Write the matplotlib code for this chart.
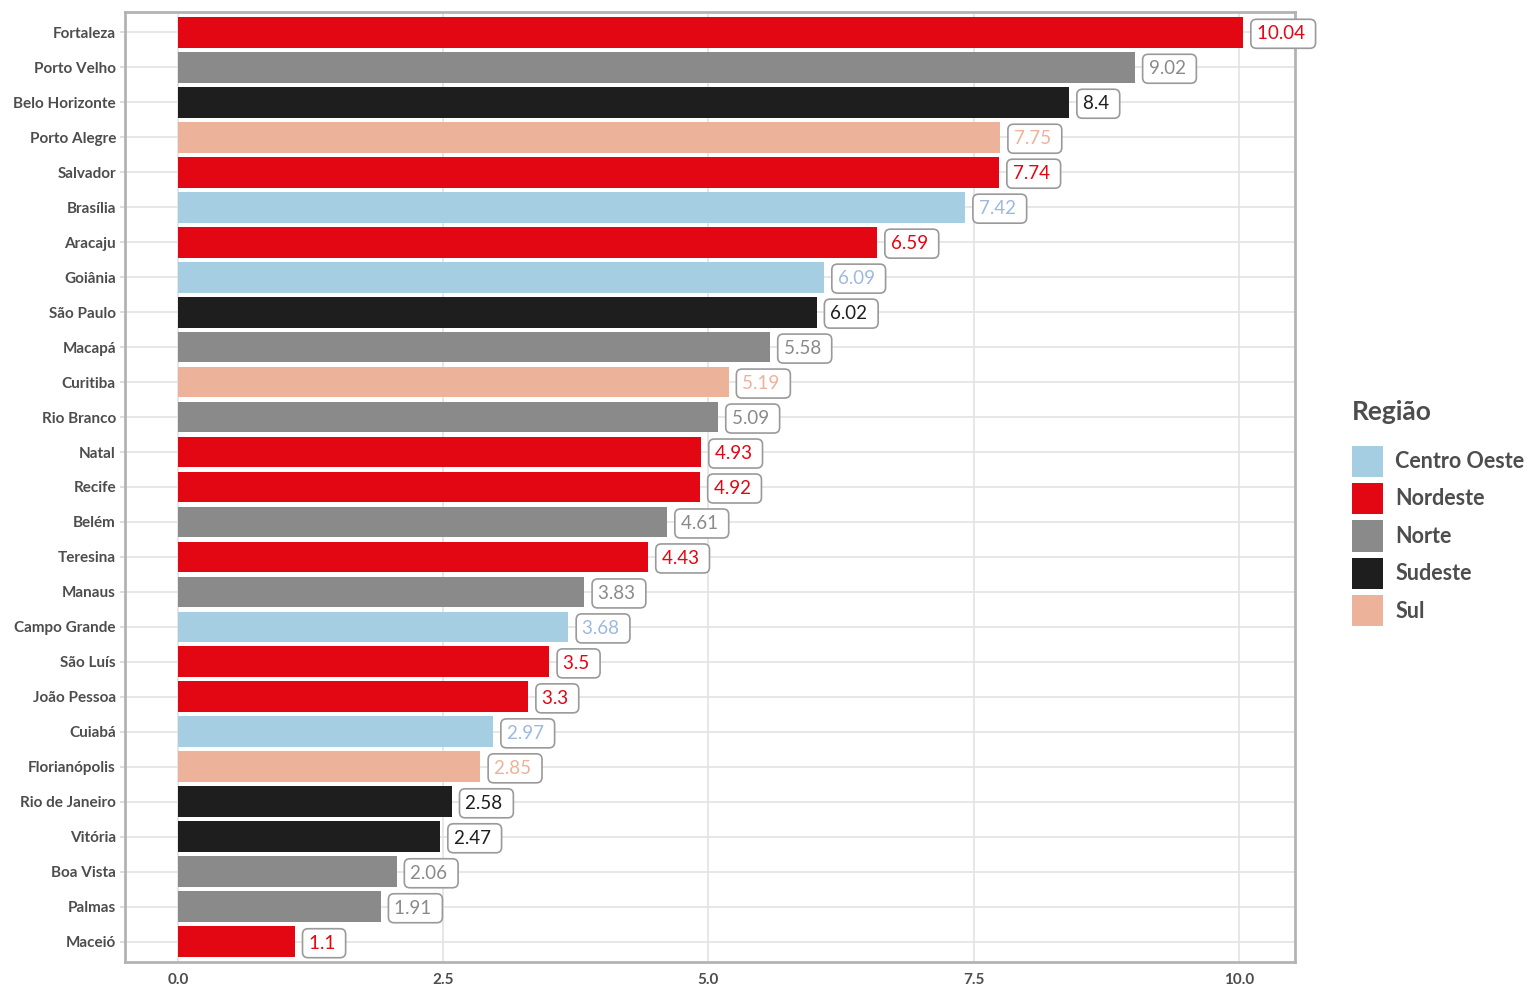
import matplotlib
matplotlib.use("Agg")
import matplotlib.pyplot as plt
from matplotlib.patches import Patch

plt.rcParams['font.family'] = ['Lato', 'DejaVu Sans']

cidades = ["Fortaleza", "Porto Velho", "Belo Horizonte", "Porto Alegre", "Salvador",
           "Brasília", "Aracaju", "Goiânia", "São Paulo", "Macapá", "Curitiba",
           "Rio Branco", "Natal", "Recife", "Belém", "Teresina", "Manaus",
           "Campo Grande", "São Luís", "João Pessoa", "Cuiabá", "Florianópolis",
           "Rio de Janeiro", "Vitória", "Boa Vista", "Palmas", "Maceió"]
valores = [10.04, 9.02, 8.4, 7.75, 7.74, 7.42, 6.59, 6.09, 6.02, 5.58, 5.19,
           5.09, 4.93, 4.92, 4.61, 4.43, 3.83, 3.68, 3.5, 3.3, 2.97, 2.85,
           2.58, 2.47, 2.06, 1.91, 1.1]
regioes = ["Nordeste", "Norte", "Sudeste", "Sul", "Nordeste", "Centro Oeste",
           "Nordeste", "Centro Oeste", "Sudeste", "Norte", "Sul", "Norte",
           "Nordeste", "Nordeste", "Norte", "Nordeste", "Norte", "Centro Oeste",
           "Nordeste", "Nordeste", "Centro Oeste", "Sul", "Sudeste", "Sudeste",
           "Norte", "Norte", "Nordeste"]

ordem_regioes = ["Centro Oeste", "Nordeste", "Norte", "Sudeste", "Sul"]
cores = {"Centro Oeste": "#A6CEE3", "Nordeste": "#E30613", "Norte": "#8A8A8A",
         "Sudeste": "#1E1E1E", "Sul": "#EDB29A"}
cores_texto = {"Centro Oeste": "#9DB9E0", "Nordeste": "#E30613", "Norte": "#8A8A8A",
               "Sudeste": "#1E1E1E", "Sul": "#EDB29A"}

n = len(cidades)
ys = list(range(n - 1, -1, -1))

fig = plt.figure(figsize=(15.28, 9.89), dpi=100)
ax = fig.add_axes([125 / 1528, 1 - 962 / 989, 1170 / 1528, 950 / 989])

ax.barh(ys, valores, height=0.88, color=[cores[r] for r in regioes], zorder=2)

for y, v, r in zip(ys, valores, regioes):
    ax.text(v + 0.13, y, f"{v:g} ", ha="left", va="center_baseline", fontsize=13.5,
            color=cores_texto[r], zorder=3,
            bbox=dict(boxstyle="round,pad=0.32,rounding_size=0.3", fc="white",
                      ec="#9a9a9a", lw=1.2))

ax.set_xlim(-0.5, 10.53)
ax.set_ylim(-0.58, n - 1 + 0.58)
ax.set_yticks(ys)
ax.set_yticklabels(cidades, fontsize=11, fontweight="bold", color="#4D4D4D")
ax.set_xticks([0, 2.5, 5, 7.5, 10])
ax.set_xticklabels(["0.0", "2.5", "5.0", "7.5", "10.0"], fontsize=11,
                   fontweight="bold", color="#4D4D4D")
ax.tick_params(axis="y", length=3.5, color="#D9D9D9", width=1.2, pad=3)
ax.tick_params(axis="x", length=0, pad=8)
ax.grid(True, color="#E3E3E3", lw=1.2, zorder=0)
ax.set_axisbelow(True)
for s in ax.spines.values():
    s.set_color("#B3B3B3")
    s.set_linewidth(2)

handles = [Patch(facecolor=cores[r], edgecolor="none", label=r) for r in ordem_regioes]
leg = fig.legend(handles=handles, title="Região", loc="upper left",
                 bbox_to_anchor=(1352 / 1528, 1 - 400 / 989), frameon=False,
                 prop={"size": 15.5, "weight": "bold"}, handlelength=1.45,
                 handleheight=1.84, handletextpad=0.55, labelspacing=0.3,
                 borderpad=0, borderaxespad=0)
leg.get_title().set_fontsize(19)
leg.get_title().set_fontweight("bold")
leg.get_title().set_color("#4D4D4D")
leg._legend_box.align = "left"
leg._legend_box.sep = 15.5
for t in leg.get_texts():
    t.set_color("#4D4D4D")

fig.savefig("out.png", dpi=100)
